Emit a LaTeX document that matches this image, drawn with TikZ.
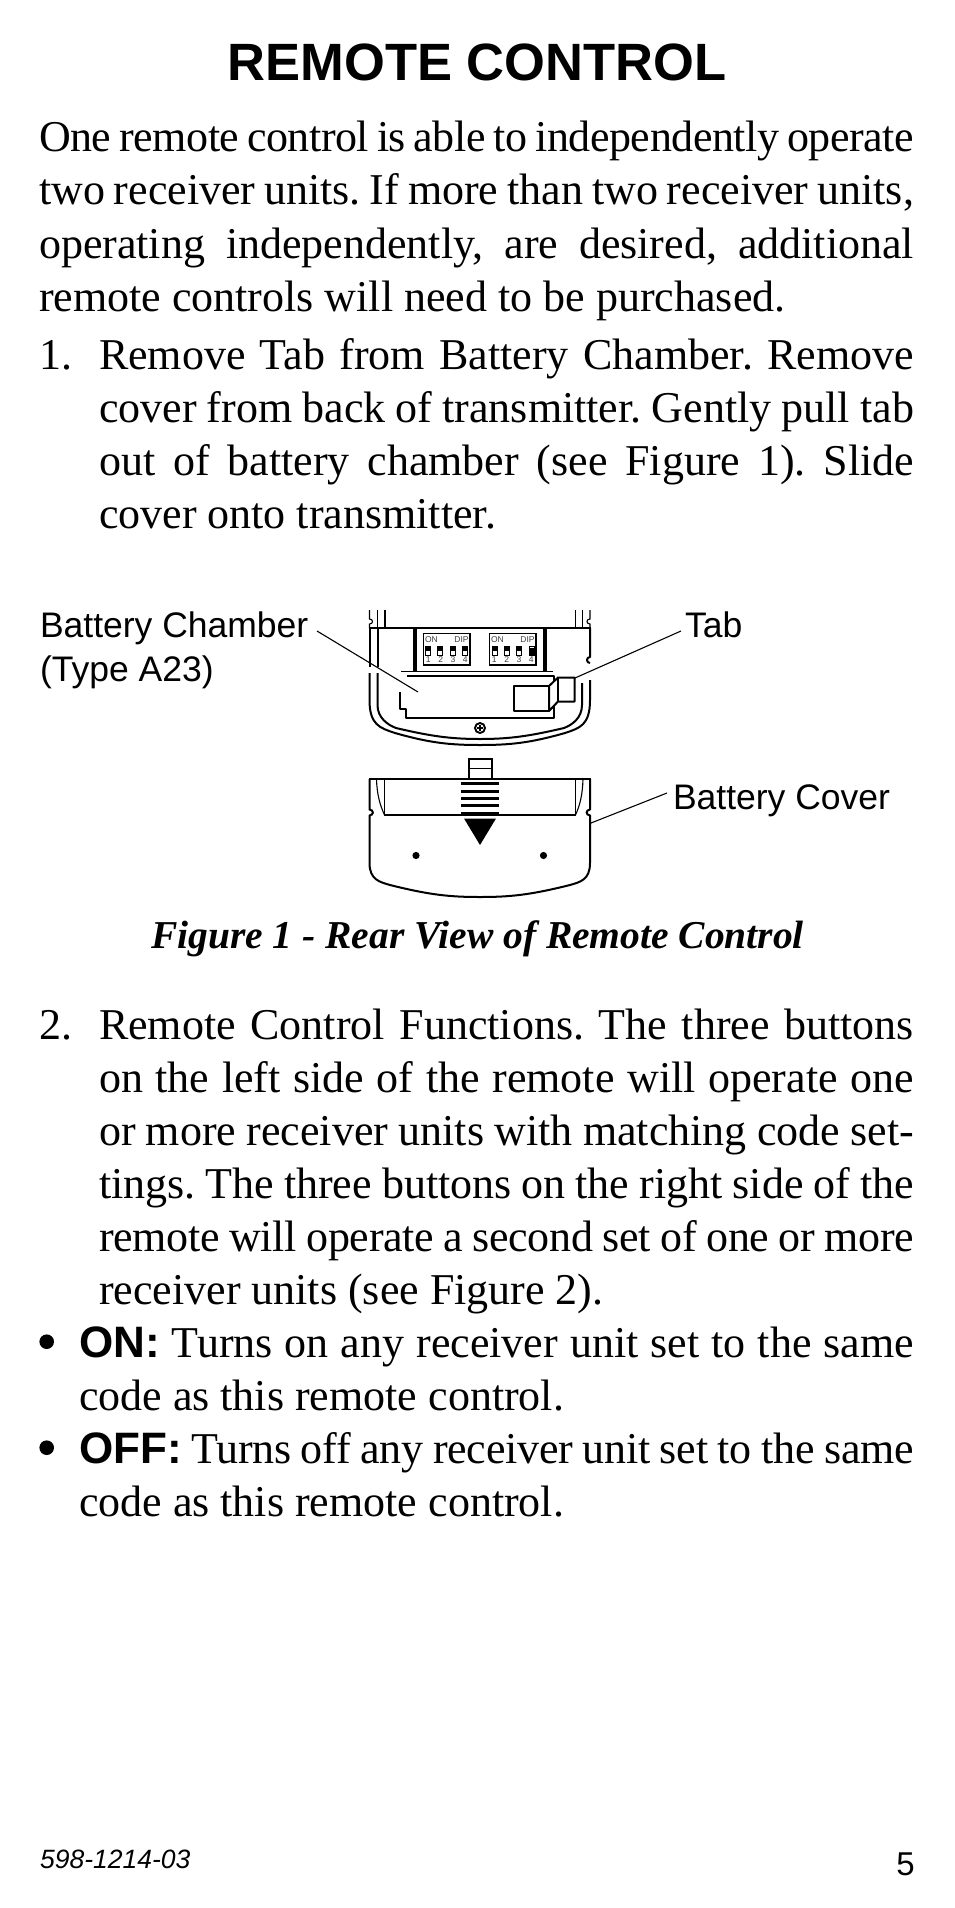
\documentclass[tikz,border=0pt]{standalone}
\usepackage{fontspec}
\setmainfont{Liberation Serif}
\setsansfont{Liberation Sans}
\newcommand{\bodyfont}{\rmfamily\fontsize{44}{44}\selectfont\frenchspacing\spaceskip=0.25em plus 1em minus 0.24em\relax}
\newcommand{\lblfont}{\sffamily\fontsize{35.5}{35.5}\selectfont}
\newcommand{\fline}[5]{\node[bodytext] (#1) at (#2,#3) {\makebox[#4pt][s]{#5}};}
\newcommand{\nline}[4]{\node[bodytext] (#1) at (#2,#3) {#4};}
\newcommand{\tighter}[1]{\addfontfeature{LetterSpace=#1}}
\tikzset{
  bodytext/.style={anchor=base west,inner sep=0pt,outer sep=0pt,font=\bodyfont},
  lbl/.style={anchor=base west,inner sep=0pt,outer sep=0pt,font=\lblfont},
  leader/.style={line width=1.1pt},
  outl/.style={line width=2pt,line join=round},
  thinl/.style={line width=1.1pt},
  thickl/.style={line width=3.7pt},
  dip/.style={anchor=center,inner sep=0pt,font=\sffamily\fontsize{8.5}{8.5}\selectfont,text=black!75}
}
\begin{document}
\begin{tikzpicture}[x=1pt,y=-1pt]
\useasboundingbox (0,0) rectangle (954,1908);
\fill[white] (0,0) rectangle (954,1908);
\node[anchor=base,inner sep=0pt,font=\sffamily\bfseries\fontsize{52.5}{52.5}\selectfont] (title) at (477,81) {REMOTE CONTROL};
\fline{a1}{39}{151}{875}{\tighter{-1}One remote control is able to independently operate}
\fline{a2}{39}{204}{875}{two receiver units. If more than two receiver units,}
\fline{a3}{39}{258}{875}{operating independently, are desired, additional}
\nline{a4}{39}{311}{remote controls will need to be purchased.}
\nline{n1}{39}{369}{1.}
\fline{b1}{99}{369}{815}{Remove Tab from Battery Chamber. Remove}
\fline{b2}{99}{422}{815}{cover from back of transmitter. Gently pull tab}
\fline{b3}{99}{475}{815}{out of battery chamber (see Figure 1). Slide}
\nline{b4}{99}{528}{cover onto transmitter.}
% figure labels
\node[lbl] (bc) at (40,637.5) {Battery Chamber};
\node[lbl] (ty) at (40,681.5) {(Type A23)};
\node[lbl] (tb) at (685,637.5) {Tab};
\node[lbl] (cv) at (673,809.5) {Battery Cover};
% body top
\draw[thinl] (369.5,610) -- (369.5,619) .. controls (373.5,619) and (373.5,624) .. (369.5,624) -- (369.5,628);
\draw[thinl] (377.5,610) -- (377.5,628) (385,610) -- (385,628);
\draw[thinl] (590,610) -- (590,619) .. controls (586,619) and (586,624) .. (590,624) -- (590,628);
\draw[thinl] (582.5,610) -- (582.5,628) (575.5,610) -- (575.5,628);
\draw[outl] (369,628) -- (590.5,628);
% body sides
\draw[outl] (369.5,628) -- (369.5,667);
\draw[outl] (377.5,628) -- (377.5,667);
\draw[outl] (590,628) -- (590,657) .. controls (586,657) and (586,663) .. (590,663);
\draw[outl] (369.5,673) -- (369.5,700) .. controls (369.5,725) and (380,728) .. (395,733) .. controls (430,743) and (450,745) .. (480,745) .. controls (510,745) and (530,743) .. (565,733) .. controls (580,728) and (590,725) .. (590,700) -- (590,680);
\draw[outl] (377.5,673) -- (377.5,705) .. controls (377.5,718) and (388,725) .. (396,728) .. controls (430,736) and (450,739) .. (480,739) .. controls (510,739) and (530,736) .. (564,728) .. controls (572,725) and (582,718) .. (582,705) -- (582,683);
\draw[thickl] (415,628) -- (415,672) (545,628) -- (545,672);
\draw[thinl] (401,671.5) -- (553,671.5);
\draw[outl] (406.5,675.5) -- (553.5,675.5) -- (553.5,717.5) -- (406,717.5) -- (406,708.5) -- (400,708.5) -- (400,692);
\draw[outl,fill=white] (514,686) -- (549,686) -- (549,711) -- (514,711) -- cycle;
\draw[outl,fill=white] (549,686) -- (558,677.5) -- (574.5,677.5) -- (574.5,701.5) -- (558,701.5) -- (549,711) -- cycle;
\draw[outl] (558,677.5) -- (558,701.5);
\node[draw,circle,line width=1.9pt,minimum size=10pt,inner sep=0pt] (screw) at (480,728) {};
\draw[line width=1.7pt] (477,728) -- (483,728) (480,725) -- (480,731);
% dip boxes
\foreach \bx/\nm in {423.3/p,489.3/q}{
  \draw[line width=1.5pt] (\bx,633.5) rectangle ++(46.5,31.5);
  \node[dip,anchor=west] (\nm on) at (\bx+1.5,639.5) {ON};
  \node[dip,anchor=east] (\nm dp) at (\bx+45.5,639.5) {DIP};
  \foreach \k/\o in {1/5,2/17.5,3/29.7,4/42}{
    \node[dip] (\nm\k) at (\bx+\o,660) {\k};
  }
}
\foreach \sx in {428.3,440.3,452.7,464.7,495,507.3,519.3}{
  \draw[line width=1pt,fill=black] (\sx-2.5,646) rectangle (\sx+2.5,650.5);
  \draw[line width=1pt] (\sx-2.5,650.5) rectangle (\sx+2.5,655);
}
\draw[line width=1pt] (529.2,646) rectangle (534.2,648.5);
\draw[line width=1pt,fill=black] (529.2,648.5) rectangle (534.2,655);
% cover
\draw[line width=2pt] (469,779) -- (469,758.5) -- (491.5,758.5) -- (491.5,779);
\draw[thinl] (469,768.5) -- (491.5,768.5);
\draw[outl] (369,779) -- (590.5,779);
\draw[outl] (369.5,779) -- (369.5,809.5) .. controls (374,810) and (374,815) .. (369.5,815.5) -- (369.5,863) .. controls (369.5,880) and (380,882) .. (390,885) .. controls (430,895) and (450,897) .. (480,897) .. controls (510,897) and (530,895) .. (570,885) .. controls (580,882) and (590,880) .. (590,863) -- (590,815.5) .. controls (585.5,815) and (585.5,810) .. (590,809.5) -- (590,779);
\draw[line width=1.5pt] (384.5,779) -- (384.5,815) -- (575.5,815) -- (575.5,779);
\draw[thinl] (376.5,779) .. controls (377,795) and (380,805) .. (384.5,815);
\draw[thinl] (583,779) .. controls (582.5,795) and (580,805) .. (575.5,815);
\fill[black] (461,782) rectangle (499,785);
\fill[black] (461,790) rectangle (499,792.5);
\fill[black] (461,797) rectangle (499,799.5);
\fill[black] (461,804) rectangle (499,807);
\fill[black] (461,811.5) rectangle (499,814.5);
\fill[black] (464,818.5) -- (496,818.5) -- (480,845) -- cycle;
\fill[black] (416,855.5) circle (3.6pt);
\fill[black] (543.5,855.5) circle (3.6pt);
% leaders
\coordinate (chamb) at (418,692);
\coordinate (tabpt) at (575,678);
\coordinate (covpt) at (591,823);
\coordinate (lbcs) at (317,631);
\coordinate (ltbs) at (681,631);
\coordinate (lcvs) at (667,793);
\draw[leader] (lbcs) -- (chamb);
\draw[leader] (ltbs) -- (tabpt);
\draw[leader] (lcvs) -- (covpt);
\node[anchor=base,inner sep=0pt,font=\rmfamily\bfseries\itshape\fontsize{39.5}{39.5}\selectfont] (cap) at (477.5,948.5) {Figure 1 - Rear View of Remote Control};
\nline{n2}{39}{1039.5}{2.}
\fline{c1}{99}{1039.5}{815}{Remote Control Functions. The three buttons}
\fline{c2}{99}{1092.5}{815}{on the left side of the remote will operate one}
\fline{c3}{99}{1145.5}{815}{or more receiver units with matching code set-}
\fline{c4}{99}{1198.5}{815}{tings. The three buttons on the right side of the}
\fline{c5}{99}{1251.5}{815}{\tighter{-0.6}remote will operate a second set of one or more}
\nline{c6}{99}{1304.5}{receiver units (see Figure 2).}
\fill[black] (46.7,1341.7) circle (7.3pt);
\fline{d1}{79}{1357}{835}{{\sffamily\bfseries ON:} Turns on any receiver unit set to the same}
\nline{d2}{79}{1410}{code as this remote control.}
\fill[black] (46.7,1447.7) circle (7.3pt);
\fline{e1}{79}{1463}{835}{{\sffamily\bfseries OFF:} {\tighter{-0.6}Turns off any receiver unit set to the same}}
\nline{e2}{79}{1516}{code as this remote control.}
\node[anchor=base west,inner sep=0pt,font=\sffamily\itshape\fontsize{26.5}{26.5}\selectfont] (pn) at (40,1868) {598-1214-03};
\node[anchor=base east,inner sep=0pt,font=\sffamily\fontsize{33}{33}\selectfont] (pg) at (915,1875) {5};
\end{tikzpicture}
\end{document}
